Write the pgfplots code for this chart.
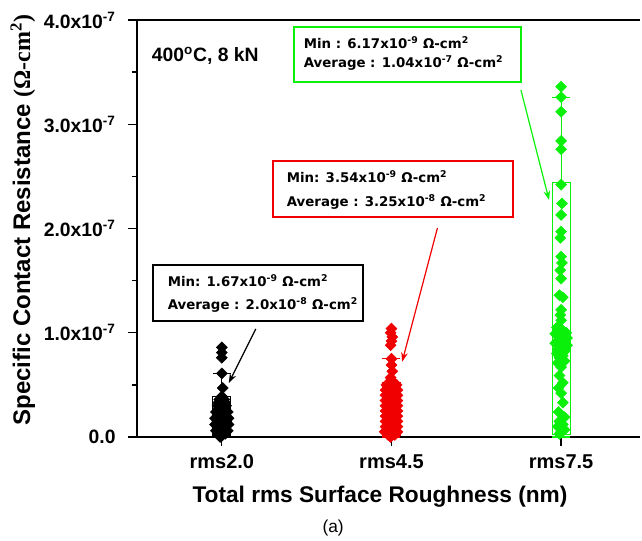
\documentclass[border=0pt]{standalone}
\usepackage{pgfplots}
\pgfplotsset{compat=1.18}
\usepgfplotslibrary{statistics}
\usetikzlibrary{arrows.meta}
\usepackage{fontspec}
\setmainfont{Liberation Sans}
\newfontfamily\dejavu{DejaVu Sans}
\newfontfamily\lserif{Liberation Serif}
\definecolor{lgreen}{RGB}{10,240,10}
\definecolor{lred}{RGB}{240,0,0}
\begin{document}
\begin{tikzpicture}
\useasboundingbox (-102.75pt,-78pt) rectangle (378.75pt,327.75pt);
\begin{axis}[
 scale only axis, width=377.25pt, height=312.75pt,
 xmin=0.5, xmax=3.465, ymin=0, ymax=4,
 axis x line*=bottom, axis y line*=left,
 axis line style={line width=1.2pt},
 xtick={1,2,3}, xticklabels={rms2.0,rms4.5,rms7.5},
 ytick={0,1,2,3,4},
 yticklabels={0.0,1.0x10\textsuperscript{-7},2.0x10\textsuperscript{-7},3.0x10\textsuperscript{-7},4.0x10\textsuperscript{-7}},
 minor ytick={0.5,1.5,2.5,3.5},
 tick align=outside, major tick length=6.5pt, minor tick length=4pt,
 every tick/.style={line width=1pt, black},
 tick label style={font=\bfseries\fontsize{14.5}{16}\selectfont},
 yticklabel style={xshift=-6pt},
 xticklabel style={yshift=-3pt, font=\bfseries\fontsize{15}{17}\selectfont},
 clip=false,
 xlabel={Total rms Surface Roughness (nm)},
 xlabel style={font=\bfseries\fontsize{17}{19}\selectfont, at={(axis description cs:0.483,-0.144)}, anchor=center},
 ylabel={Specific Contact Resistance {\lserif\bfseries (Ω-cm\textsuperscript{2})}},
 ylabel style={font=\bfseries\fontsize{18}{20}\selectfont, at={(axis description cs:-0.227,0.52)}, anchor=center, rotate=0},
]
% black points
\addplot[only marks, mark=square*, mark size=2.9pt, mark options={rotate=45, fill=black, draw=black}, black] coordinates {
(1.00,0.86) (1.00,0.81) (1.00,0.76) (1.00,0.61) (1.005,0.47)
(1.00,0.39) (0.985,0.36) (1.015,0.36) (0.98,0.33) (1.02,0.33)
(0.975,0.30) (1.00,0.30) (1.025,0.30) (0.98,0.27) (1.02,0.27)
(0.965,0.24) (1.00,0.24) (1.035,0.24) (0.975,0.21) (1.02,0.21)
(0.96,0.18) (1.00,0.18) (1.04,0.18) (0.975,0.15) (1.025,0.15)
(0.96,0.12) (1.00,0.12) (1.04,0.12) (0.975,0.09) (1.02,0.09)
(0.965,0.06) (1.00,0.06) (1.035,0.06) (0.98,0.03) (1.02,0.03)
(1.00,0.01) (0.99,0.00) (1.01,0.14) (0.99,0.26) (1.01,0.04)
};
% red points
\addplot[only marks, mark=square*, mark size=2.9pt, mark options={rotate=45, fill=lred, draw=lred}] coordinates {
(2.00,1.04) (1.995,1.00) (2.005,0.96) (2.00,0.92) (1.995,0.88)
(2.00,0.75) (2.00,0.69) (2.005,0.63) (1.995,0.57)
(1.99,0.52) (2.015,0.52)
(1.97,0.50) (2.00,0.50) (2.03,0.50)
(1.985,0.47) (2.02,0.47)
(1.965,0.45) (2.00,0.45) (2.035,0.45)
(1.98,0.42) (2.02,0.42)
(1.965,0.40) (2.00,0.40) (2.035,0.40)
(1.985,0.37) (2.02,0.37)
(1.965,0.35) (2.005,0.35) (2.035,0.35)
(1.98,0.32) (2.02,0.32)
(1.965,0.30) (2.00,0.30) (2.035,0.30)
(1.985,0.27) (2.02,0.27)
(1.965,0.25) (2.005,0.25) (2.035,0.25)
(1.98,0.22) (2.02,0.22)
(1.965,0.20) (2.00,0.20) (2.035,0.20)
(1.985,0.17) (2.02,0.17)
(1.965,0.15) (2.005,0.15) (2.035,0.15)
(1.98,0.12) (2.02,0.12)
(1.965,0.10) (2.00,0.10) (2.035,0.10)
(1.985,0.07) (2.02,0.07)
(1.96,0.05) (2.005,0.05) (2.035,0.05)
(1.98,0.02) (2.02,0.02) (1.995,0.00)
};
% green points
\addplot[only marks, mark=square*, mark size=2.9pt, mark options={rotate=45, fill=lgreen, draw=lgreen}] coordinates {
(3.00,3.36) (3.00,3.26) (3.00,3.12) (3.00,2.84) (3.00,2.76) (3.00,2.42)
(3.005,2.24) (3.00,2.13) (3.00,1.97) (2.995,1.91) (3.00,1.73) (3.005,1.67)
(2.995,1.60) (3.00,1.52) (2.99,1.36) (3.01,1.34) (3.00,1.22) (2.995,1.17) (3.00,1.12)
(2.975,1.05) (3.005,1.03) (3.03,1.00) (2.965,0.99) (3.00,0.97) (3.035,0.95)
(2.985,0.93) (3.02,0.91) (2.965,0.90) (3.035,0.88) (3.00,0.86) (2.98,0.84)
(3.025,0.83) (2.975,0.80) (3.01,0.78) (2.99,0.76) (3.02,0.73)
(2.98,0.71) (3.00,0.67) (2.99,0.59) (3.01,0.52) (2.985,0.47) (3.00,0.42)
(3.01,0.33) (2.985,0.24) (3.02,0.19) (2.99,0.15) (3.01,0.12) (2.98,0.10)
(3.02,0.07) (3.00,0.05) (2.99,0.03)
};
% boxes
\addplot[black, line width=0.8pt, boxplot prepared={lower whisker=0, lower quartile=0.01, median=0.15, upper quartile=0.39, upper whisker=0.61, draw position=1, box extend=0.106, whisker extend=0.106, draw direction=y}] coordinates {};
\addplot[lred, line width=0.8pt, boxplot prepared={lower whisker=0, lower quartile=0.01, median=0.2, upper quartile=0.52, upper whisker=0.75, draw position=2, box extend=0.106, whisker extend=0.106, draw direction=y}] coordinates {};
\addplot[lgreen, line width=0.8pt, boxplot prepared={lower whisker=0, lower quartile=0.02, median=0.85, upper quartile=2.44, upper whisker=3.26, draw position=3, box extend=0.106, whisker extend=0.106, draw direction=y}] coordinates {};
% top frame line
\draw[line width=1.2pt] (rel axis cs:0,1) -- (rel axis cs:1,1);
% annotations
\node[anchor=west, font=\bfseries\fontsize{14.5}{16}\selectfont] at (axis cs:0.56,3.66) {400\textsuperscript{o}C, 8 kN};
\draw[black, line width=1.5pt] (axis cs:0.594,1.113) rectangle (axis cs:1.835,1.650);
\node[anchor=west, inner sep=0pt, font=\dejavu\bfseries\fontsize{10}{12}\selectfont] at (axis cs:0.68,1.496) {Min: 1.67x10\textsuperscript{-9} Ω-cm\textsuperscript{2}};
\node[anchor=west, inner sep=0pt, font=\dejavu\bfseries\fontsize{10}{12}\selectfont] at (axis cs:0.68,1.266) {Average : 2.0x10\textsuperscript{-8} Ω-cm\textsuperscript{2}};
\draw[black, line width=0.9pt, -{Stealth[length=7pt,width=5pt]}] (axis cs:1.20,1.036) -- (axis cs:1.041,0.518);
\draw[lred, line width=1.5pt] (axis cs:1.30,2.110) rectangle (axis cs:2.718,2.647);
\node[anchor=west, inner sep=0pt, font=\dejavu\bfseries\fontsize{10}{12}\selectfont] at (axis cs:1.382,2.494) {Min: 3.54x10\textsuperscript{-9} Ω-cm\textsuperscript{2}};
\node[anchor=west, inner sep=0pt, font=\dejavu\bfseries\fontsize{10}{12}\selectfont] at (axis cs:1.382,2.254) {Average : 3.25x10\textsuperscript{-8} Ω-cm\textsuperscript{2}};
\draw[lred, line width=0.9pt, -{Stealth[length=7pt,width=5pt]}] (axis cs:2.271,2.005) -- (axis cs:2.063,0.722);
\draw[lgreen, line width=1.5pt] (axis cs:1.424,3.405) rectangle (axis cs:2.765,3.933);
\node[anchor=west, inner sep=0pt, font=\dejavu\bfseries\fontsize{10}{12}\selectfont] at (axis cs:1.482,3.779) {Min : 6.17x10\textsuperscript{-9} Ω-cm\textsuperscript{2}};
\node[anchor=west, inner sep=0pt, font=\dejavu\bfseries\fontsize{10}{12}\selectfont] at (axis cs:1.482,3.588) {Average : 1.04x10\textsuperscript{-7} Ω-cm\textsuperscript{2}};
\draw[lgreen, line width=0.9pt, -{Stealth[length=7pt,width=5pt]}] (axis cs:2.763,3.329) -- (axis cs:2.929,2.273);
\node[font=\fontsize{13}{15}\selectfont] at (axis description cs:0.39,-0.218) {(a)};
\end{axis}
\end{tikzpicture}
\end{document}
